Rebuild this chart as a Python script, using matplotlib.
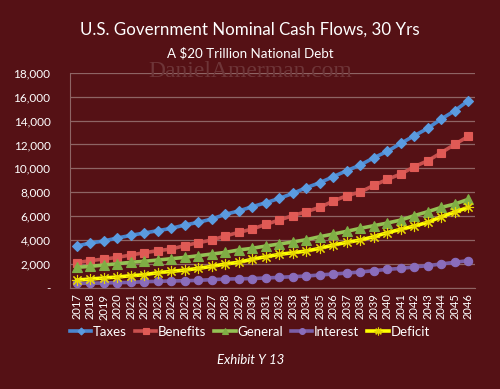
import numpy as np
import matplotlib
matplotlib.use("Agg")
from matplotlib import pyplot as plt
from matplotlib.ticker import FuncFormatter

years = [str(y) for y in range(2017, 2047)]

taxes = [3510, 3760, 3930, 4180, 4400, 4600, 4790, 4990, 5270, 5490,
         5770, 6160, 6440, 6800, 7130, 7490, 7910, 8390, 8800, 9310,
         9810, 10280, 10890, 11420, 12090, 12730, 13350, 14130, 14820, 15660]
benefits = [2120, 2290, 2420, 2560, 2760, 2950, 3120, 3260, 3540, 3790,
            4010, 4350, 4650, 4930, 5320, 5680, 6050, 6380, 6740, 7270,
            7720, 8020, 8580, 9080, 9530, 10140, 10640, 11310, 12010, 12680]
general = [1730, 1810, 1920, 2030, 2150, 2230, 2340, 2450, 2560, 2700,
           2840, 2980, 3180, 3320, 3510, 3680, 3850, 4040, 4290, 4510,
           4740, 4990, 5210, 5430, 5680, 6050, 6380, 6740, 7020, 7410]
interest = [390, 400, 420, 450, 470, 530, 560, 590, 610, 640,
            700, 750, 770, 790, 840, 890, 950, 1000, 1090, 1170,
            1250, 1340, 1450, 1560, 1640, 1760, 1870, 2010, 2150, 2290]
deficit = [670, 750, 840, 920, 1030, 1110, 1280, 1390, 1500, 1640,
           1810, 2010, 2150, 2400, 2620, 2810, 2950, 3090, 3320, 3590,
           3820, 4010, 4290, 4630, 4900, 5180, 5490, 5960, 6350, 6740]

bg = "#551115"
plt.rcParams['font.family'] = ['Lato', 'DejaVu Sans']

fig = plt.figure(figsize=(5, 3.89), dpi=100, facecolor=bg)
ax = fig.add_axes([0.14, 0.2596, 0.81, 0.5535])
ax.set_facecolor(bg)

x = np.arange(len(years))
series = [
    ("Taxes", taxes, "#4a86cf", "D", "#5b9be0", 5),
    ("Benefits", benefits, "#c9504e", "s", "#e05a55", 5.5),
    ("General", general, "#94c254", "^", "#7fae45", 6.5),
    ("Interest", interest, "#7b5fa8", "o", "#8a6dbb", 6),
    ("Deficit", deficit, "#ffff00", (8, 2, 0), "#f0e000", 8),
]
for name, vals, col, mk, mcol, ms in series:
    ax.plot(x, vals, color=col, lw=2.6, marker=mk, markersize=ms,
            markerfacecolor=mcol, markeredgecolor=mcol if name != "Deficit" else "#e8d800",
            markeredgewidth=0.8, label=name, zorder=3)

ax.set_xlim(-0.5, len(years) - 0.5)
ax.set_ylim(0, 18000)
ax.set_yticks(range(0, 18001, 2000))
ax.yaxis.set_major_formatter(FuncFormatter(lambda v, p: "-" if v == 0 else f"{int(v):,}"))
ax.set_xticks(x)
ax.set_xticklabels(years, rotation=90)
ax.tick_params(axis='both', colors="white", length=0)
ax.tick_params(axis='y', pad=14, labelsize=8.5)
ax.tick_params(axis='x', pad=4, labelsize=8)
ax.grid(axis='y', color="#8e6464", lw=0.9, zorder=0)
for s in ["top", "right"]:
    ax.spines[s].set_visible(False)
ax.spines["left"].set_color("#8e6464")
ax.spines["bottom"].set_color("#8e6464")

fig.text(0.5, 0.923, "U.S. Government Nominal Cash Flows, 30 Yrs", ha="center", va="center",
         color="white", fontsize=12.2)
fig.text(0.5, 0.864, "A $20 Trillion National Debt", ha="center", va="center",
         color="white", fontsize=9.6)
fig.text(0.5, 0.815, "DanielAmerman.com", ha="center", va="center", color="#6e3538",
         fontsize=17, family="Liberation Serif", zorder=0)

fig.legend(loc="center", bbox_to_anchor=(0.5, 0.147), ncol=5, frameon=False,
           fontsize=9.5, labelcolor="white", handlelength=1.6, handletextpad=0.15,
           columnspacing=0.6, markerscale=0.7)
fig.text(0.502, 0.074, "Exhibit Y 13", ha="center", va="center", color="white",
         fontsize=9.5, style="italic")

fig.savefig("out.png", dpi=100, facecolor=bg)
